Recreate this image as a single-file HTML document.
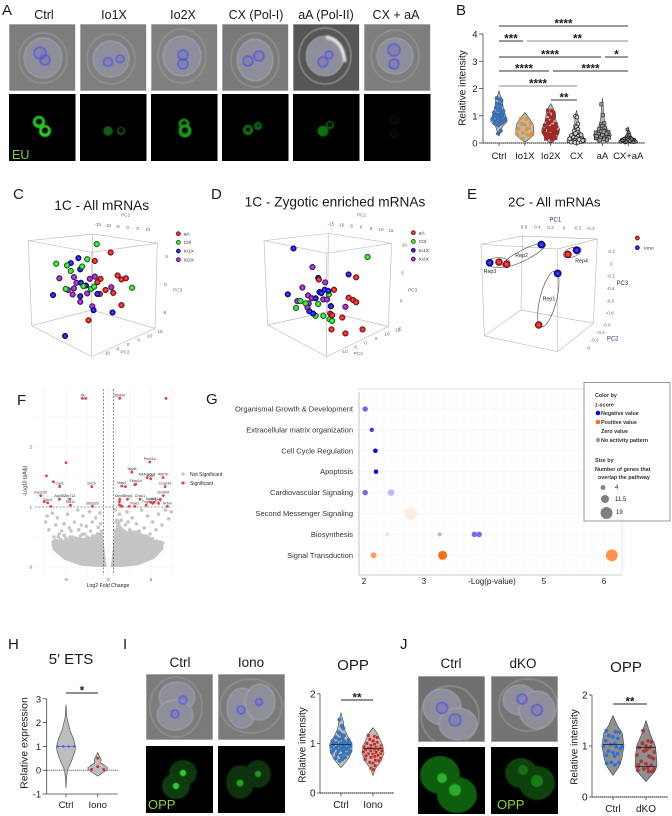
<!DOCTYPE html>
<html lang="en">
<head>
<meta charset="utf-8">
<title>Figure panels A-J</title>
<style>
html,body{margin:0;padding:0;background:#fff;width:672px;height:816px;overflow:hidden}
svg{display:block}
text{font-family:"Liberation Sans",Arial,sans-serif;fill:#1a1a1a}
.let{font-size:15px}
.ttl{font-size:15px;text-anchor:middle}
.hd{font-size:12.5px;text-anchor:middle}
.tk3{font-size:14px;fill:#666;text-anchor:middle}
.lg3{font-size:15px;fill:#333}
.blu{font-size:18px;fill:#26358a;text-anchor:middle}
.rep{font-size:16px;fill:#222;text-anchor:middle}
.cube{fill:none;stroke:#bdbdbd;stroke-width:2}
.lgG{font-size:5.4px;font-weight:bold;fill:#333}
</style>
</head>
<body>
<svg id="fig" xmlns="http://www.w3.org/2000/svg" width="672" height="816" viewBox="0 0 672 816">
<defs>
<filter id="soft" x="-30%" y="-30%" width="160%" height="160%"><feGaussianBlur stdDeviation="0.5"/></filter>
<filter id="glow" x="-50%" y="-50%" width="200%" height="200%"><feGaussianBlur stdDeviation="1.1"/></filter>
<radialGradient id="g-red"><stop offset="0" stop-color="#ff6a6a"/><stop offset=".7" stop-color="#e01010"/><stop offset="1" stop-color="#700"/></radialGradient>
<radialGradient id="g-green"><stop offset="0" stop-color="#7dff7d"/><stop offset=".7" stop-color="#14d414"/><stop offset="1" stop-color="#060"/></radialGradient>
<radialGradient id="g-blue"><stop offset="0" stop-color="#5a5aff"/><stop offset=".7" stop-color="#0a0ae0"/><stop offset="1" stop-color="#004"/></radialGradient>
<radialGradient id="g-purple"><stop offset="0" stop-color="#c060e8"/><stop offset=".7" stop-color="#8a1fc0"/><stop offset="1" stop-color="#404"/></radialGradient>
</defs>

<g id="letters">
<text class="let" x="2" y="15">A</text>
<text class="let" x="456" y="15">B</text>
<text class="let" x="13" y="199">C</text>
<text class="let" x="211" y="199">D</text>
<text class="let" x="467" y="199">E</text>
<text class="let" x="17" y="405">F</text>
<text class="let" x="206" y="404">G</text>
<text class="let" x="8" y="649">H</text>
<text class="let" x="123" y="649">I</text>
<text class="let" x="400" y="649">J</text>
</g>

<g id="panelA">
<text class="hd" x="44" y="19">Ctrl</text>
<text class="hd" x="114" y="19">Io1X</text>
<text class="hd" x="183" y="19">Io2X</text>
<text class="hd" x="256" y="19">CX (Pol-I)</text>
<text class="hd" x="326" y="19">aA (Pol-II)</text>
<text class="hd" x="396" y="19">CX + aA</text>
</g>

<g id="panelB">
<text font-size="10" text-anchor="middle" transform="translate(465.5,88) rotate(-90)">Relative intensity</text>
</g>

<g id="panelC" transform="translate(0,175) scale(.33333)">
<text class="ttl" style="font-size:41px" x="305" y="105">1C - All mRNAs</text>
<path class="cube" d="M85 197L278 177L472 205L275 232ZM85 197L95 452L275 545L465 460L472 205M278 177L275 405M95 452L275 405L465 460M275 232L275 545"/>
<text class="tk3" x="377" y="125">PC1</text>
<text class="tk3" x="533" y="350">PC3</text>
<text class="tk3" x="375" y="535">PC2</text>
</g>

<g id="panelD" transform="translate(225,175) scale(.33333)">
<text class="ttl" style="font-size:41px" x="330" y="95">1C - Zygotic enriched mRNAs</text>
<path class="cube" d="M117 197L310 175L500 205L305 235ZM117 197L128 450L305 545L490 455L500 205M310 175L308 410M128 450L308 410L490 455M305 235L305 545"/>
<text class="tk3" x="410" y="125">PC1</text>
<text class="tk3" x="563" y="350">PC3</text>
<text class="tk3" x="400" y="540">PC2</text>
</g>

<g id="panelE" transform="translate(445,175) scale(.33333)">
<text class="ttl" style="font-size:40px" x="328" y="94">2C - All mRNAs</text>
<path class="cube" d="M108 208L232 183L457 192L338 222ZM108 208L118 483L338 530L445 445L457 192M232 183L228 405M118 483L228 405L445 445M338 222L338 530"/>
<text class="blu" x="331" y="140">PC1</text>
<text class="blu" x="532" y="330">PC3</text>
<text class="blu" x="503" y="497">PC2</text>
<g fill="none" stroke="#555" stroke-width="2">
<ellipse cx="237" cy="240" rx="72" ry="16" transform="rotate(-27 237 240)"/>
<ellipse cx="160" cy="263" rx="34" ry="15"/>
<ellipse cx="382" cy="232" rx="28" ry="14" transform="rotate(-20 382 232)"/>
<ellipse cx="310" cy="372" rx="86" ry="25" transform="rotate(-76 310 372)"/>
</g>
<text class="rep" x="230" y="246">Rep2</text>
<text class="rep" x="135" y="294">Rep3</text>
<text class="rep" x="410" y="263">Rep4</text>
<text class="rep" x="312" y="376">Rep1</text>
</g>

<g id="panelF">
<text font-size="5" text-anchor="middle" transform="translate(26.5,481) rotate(-90)">-Log10 (pAdj)</text>
<text font-size="5.2" text-anchor="middle" x="108" y="587">Log2 Fold Change</text>
<circle cx="183" cy="474" r="1.6" fill="#c4c4c4"/>
<text font-size="5" x="190" y="476">Not Significant</text>
<circle cx="183" cy="483" r="1.6" fill="#f04040"/>
<text font-size="5" x="190" y="485">Significant</text>
</g>

<g id="panelG">
<text font-size="8" text-anchor="middle" x="492" y="584">-Log(p-value)</text>
</g>
<g id="legendG">
<rect x="584" y="382.5" width="86" height="138.5" fill="#fff" stroke="#999" stroke-width="1"/>
<text class="lgG" x="595" y="397">Color by</text>
<text class="lgG" x="595" y="406.5">z-score</text>
<circle cx="598" cy="413" r="2.3" fill="#0808f0"/>
<text class="lgG" x="601" y="415">Negative value</text>
<circle cx="598" cy="422" r="2.3" fill="#ff6d12"/>
<text class="lgG" x="601" y="424">Positive value</text>
<text class="lgG" x="601" y="433">Zero value</text>
<circle cx="598" cy="440" r="2.3" fill="#9aa0b5"/>
<text class="lgG" x="601" y="442">No activity pattern</text>
<text class="lgG" x="595" y="462">Size by</text>
<text class="lgG" x="595" y="471">Number of genes that</text>
<text class="lgG" x="598" y="479">overlap the pathway</text>
<circle cx="603" cy="487.5" r="2.4" fill="#808080"/>
<text font-size="6" fill="#444" x="615" y="489">4</text>
<circle cx="605" cy="499" r="4" fill="#808080"/>
<text font-size="6" fill="#444" x="615" y="501">11.5</text>
<circle cx="606.5" cy="513" r="6" fill="#808080"/>
<text font-size="6" fill="#444" x="616" y="514">19</text>
</g>

<g id="panelH">
<text class="ttl" x="71" y="664">5&#8242; ETS</text>
<text font-size="10.5" text-anchor="middle" transform="translate(27.5,743) rotate(-90)">Relative expression</text>
</g>

<g id="panelI">
<text class="ttl" style="font-size:13.5px" x="180" y="667">Ctrl</text>
<text class="ttl" style="font-size:13.5px" x="251" y="667">Iono</text>
<text class="ttl" x="353" y="670">OPP</text>
<text font-size="10" text-anchor="middle" transform="translate(305.5,745) rotate(-90)">Relative intensity</text>
</g>

<g id="panelJ">
<text class="ttl" style="font-size:13.5px" x="451" y="668">Ctrl</text>
<text class="ttl" style="font-size:13.5px" x="523" y="668">dKO</text>
<text class="ttl" x="626" y="672">OPP</text>
<text font-size="10" text-anchor="middle" transform="translate(577.5,747) rotate(-90)">Relative intensity</text>
</g>
</svg>

<script>
/* ---------- Panel B data ---------- */
const bCategories = ['Ctrl','Io1X','Io2X','CX','aA','CX+aA'];
const bTicks = [0,1,2,3,4];
const bCtrl = [1.65,1.6,1.55,1.45,1.42,1.38,1.3,1.25,1.2,1.18,1.12,1.1,1.08,1.05,1.02,1,.98,.95,.92,.9,.88,.85,.82,.8,.78,.75,.72,.7,.65,.45,.35,1.35,1.15,1.0,.93];
const bIo1X = [.9,.88,.72,.7,.68,.55,.52,.5,.38,.36,.33,.3,.28,.15];
const bIo2X = [1.2,1.18,1.1,1.05,.95,.9,.85,.8,.75,.7,.65,.62,.6,.58,.55,.52,.5,.48,.45,.42,.4,.38,.35,.32,.3,.28,.25,.22,.2,.18,.15,.12,1.0,.72,.5,.46,.35,.28];
const bCX = [.98,.95,.7,.62,.58,.5,.45,.4,.35,.3,.28,.25,.22,.2,.18,.15,.14,.12,.1,.1,.08,.07,.06,.05,.05,.04,.03,.02,.02,.3,.16,.13,.09];
const bAA = [1.42,1.02,.72,.68,.62,.55,.5,.45,.42,.4,.38,.36,.34,.32,.3,.28,.26,.24,.22,.2,.18,.15,.12,.1,.3,.35,.25,.42];
const bCXAA = [.5,.38,.3,.25,.2,.18,.16,.15,.14,.12,.12,.1,.1,.09,.08,.08,.07,.06,.06,.05,.05,.04,.03,.02,.11,.13,.09,.07,.04];
const bLevels = [[.25,.4,.6,.8,1,1.2,1.4,1.6,1.75,1.93],[.05,.15,.3,.5,.7,.9,1.12],[.03,.15,.3,.5,.7,.9,1.1,1.3,1.45],[0,.1,.2,.4,.6,.8,1,1.2],[0,.1,.3,.5,.7,1,1.3,1.65],[0,.05,.1,.2,.3,.45,.6]];
const bDensity = [[0,.2,.4,1,.8,.6,.45,.4,.15,0],[.1,.5,1,1,.9,.5,0],[.2,.6,.85,1,.7,.55,.5,.25,0],[.8,1,.8,.4,.25,.2,.15,0],[.3,.7,1,.55,.3,.15,.1,0],[.6,1,.9,.5,.2,.1,0]];

/* ---------- PCA data (principal-component units) ---------- */
const cAaPc1 = [3.0,.5,4.1,4.7,5.4,1.4,.9,2.2,3.4,1.3,4.7,-.5];
const cAaPc3 = [5.8,4.3,1.7,1,1.2,1.1,.5,-.9,-1.4,-1.6,-3.6,-6.3];
const cCtrlPc1 = [.8,-5.6,-3.9,-3.3,-.7,-1.5,-4.1,-1.3,-.1,.4,6.4];
const cCtrlPc3 = [7.3,3.8,3.5,2.5,4.6,3.3,-.7,-.2,-.7,-.3,-.5];
const cIo1Pc1 = [-2.1,-3.3,-1.8,-1.7,-.9,-6.1,-1.8,.9,.3,3.3,-4.2];
const cIo1Pc3 = [4.8,3.9,2.8,.4,-.1,-1.8,-2,-1.6,-4.5,-4.9,-9.1];
const cIo2Pc1 = [-5.1,-2.8,-2.4,-.3,.5,3.1,-2.8,-3.7,-3,-.7,-1.8,.1];
const cIo2Pc3 = [1.2,1.4,.4,1.1,1.5,-.4,-.6,-.9,-1.7,-1.5,-3,-3.8];

const dAaPc1 = [4.4,-1.5,.9,3.2,3.9,4.4,.3,.6,2.2,.5,2.7,5.4];
const dAaPc3 = [4.3,3.9,2.1,.7,.3,-.1,-2.1,-2.4,-2.8,-4.9,-5.6,-4.9];
const dCtrlPc1 = [6.2,.1,-4.4,-3.6,-1.6,-5.1,.4,-2,-.8,.2,.6];
const dCtrlPc3 = [7.9,1.3,.1,-.3,-.4,-1.1,-.8,-2.5,-2.5,-3.1,-3.4];
const dIo1Pc1 = [-5.5,3.2,-1.6,-6.4,-1.4,-.6,0,-1.1,-2,.4,-3,-2.4];
const dIo1Pc3 = [9.4,4.8,4.2,1.3,1.7,2.1,1.9,1.5,.6,-.8,-1.7,-2.1];
const dIo2Pc1 = [-2.5,-.5,-4.1,-3.2,-2.6,-.8,-.2,-3.1,-4.9,-3.3,2.7];
const dIo2Pc3 = [6.1,3.4,2.5,1.1,.6,.4,.4,-.3,.1,-1,-.9];

const eCtrlPc1 = [.965,.85,-.07,.37];
const eCtrlPc3 = [.03,-.005,.154,-.973];
const eIonoPc1 = [1.105,.33,-.2,.085];
const eIonoPc3 = [.02,.31,.22,-.15];

const pcaLegendC = ['aA','Ctrl','Io1X','Io2X'];
const cPc1Ticks = ['-15','-10','-5','0','5','10'];
const cPc3Ticks = ['5','0','-5'];
const cPc2Ticks = ['15','10','5','0','-5','-10'];
const dPc1Ticks = ['-15','-10','-5','0','5','10','15'];
const dPc3Ticks = ['10','5','0','-5'];
const dPc2Ticks = ['15','10','5','0','-5','-10'];
const ePc1Ticks = ['0.6','0.4','0.2','0','-0.2','-0.4'];
const ePc3Ticks = ['0.2','0','-0.2','-0.4','-0.6','-0.8'];
const ePc2Ticks = ['-0.6','-0.4','-0.2','0'];

/* ---------- Panel F data ---------- */
const fXTicks = [-5,0,5];
const fYTicks = [0,1,2];
const nsFc = [-7.2,-7.4,-6.6,-6.2,-6,-5.8,-5.5,-5.2,-4.8,-4.6,-4.4,-4,-3.6,-3.5,-3.2,-3,-2.8,-2.6,-2.2,-2.1,-1.9,-1.5,-1.3,-1.2,-1,-.9,-.8,-6.4,-5,-4.2,-3.8,-3.3,-2.5,-1.8,-1.6,-7,7.4,7.1,6.7,6.3,5.9,5.6,5.2,4.9,4.6,4.2,3.9,3.6,3.3,3,2.8,2.5,2.2,2,1.8,1.5,1.3,1.1,.9,.8,2.3,1.6,3.2,4.3,5,5.6,6,1.2,.75,-6.3,-5.6,-4.9,-4.5,-3.9,-3.4,-2.9,-2.4,-1.9,-1.4,-1.1,-.8,-5.9,-5.2,-3.1,-2.2,1,1.4,1.9,2.4,2.9,3.4,3.9,4.4,4.8,5.2,5.7,6.1,6.4,1.2,2.6,3.7,4.6];
const nsP = [.85,.75,.9,.7,.82,.55,.6,.72,.88,.65,.6,.75,.95,.62,.7,.85,.55,.68,.92,.6,.75,.82,.55,.66,.9,.72,.6,.5,.48,.5,.48,.52,.5,.52,.48,.62,.92,.8,.95,.7,.88,.62,.75,.55,.85,.65,.95,.6,.72,.55,.82,.62,.92,.7,.58,.78,.88,.65,.75,.95,.75,.62,.58,.5,.45,.42,.4,.7,.6,.44,.46,.43,.5,.45,.47,.46,.48,.5,.52,.55,.5,.5,.53,.54,.47,.78,.66,.6,.56,.58,.55,.53,.52,.48,.47,.43,.42,.4,.74,.6,.55,.5];
const nsCloudFc = [-6.7,-6.2,-5.5,-5,-4,-3,-2,-1.2,-.7,-.55,-.3,-.2,-.9,-3.2,-5.2,-6.5,-6.7];
const nsCloudP = [.44,.47,.44,.47,.5,.48,.5,.55,.58,.4,.1,0,0,.02,.12,.28,.36];
const nsCloudRFc = [.25,.35,.7,.95,1.4,2,3,4,5,5.6,6.4,6.5,5.4,3.5,1.5];
const nsCloudRP = [0,.1,.55,.72,.66,.6,.58,.55,.48,.44,.4,.3,.14,.03,0];
const sigFc = [-3.06,-2.67,1.33,6.78,4.86,-4.98,2.75,-7.29,4.55,4.98,6.43,-6.47,-5.73,-1.96,1.57,2,3.2,3.1,6.67,-7.96,6.47,-4.55,-5.76,-7.57,-7.14,-6.78,-4.47,-1.88,2.24,1.33,3.73,5.0,5.4,5.2,5.9,6.1,6.93,4.45,3.1,2.45,1.3,1.3,1.45,1.6];
const sigP = [2.81,2.81,2.81,2.81,1.75,1.74,1.58,1.52,1.49,1.47,1.49,1.42,1.34,1.34,1.35,1.34,1.38,1.37,1.34,1.19,1.19,1.13,1.13,1.09,1.07,1.01,1.03,1.01,1.13,1.13,1.13,1.08,1.08,1.06,1.06,1.13,1.01,1.03,1.01,1.01,1.09,1.04,1.02,1.01];
const sigLabels = ['Jtk','','Zfp820','','Pex11a','','Tsga8','','AA403004','Rafn','Wdr7b','','Cgy1','Dnzh','Ntav1','','Fkbp1b','','Cusp39','Impm2b','Dmrtb6','Zfp712','Acp85','','Tcen1','','Sfa11','Stt2p20','Stmg1','Asrc1l','Chac1','Agap3','Hnf1','','Ep8','','Nrbm','Fcgs','Fbxl3','','','','',''];

/* ---------- Panel G data ---------- */
const gPathways = ['Organismal Growth & Development','Extracellular matrix organization','Cell Cycle Regulation','Apoptosis','Cardiovascular Signaling','Second Messenger Signaling','Biosynthesis','Signal Transduction'];
const gXTicks = [2,3,5,6];
const gRow = [0,1,2,3,4,4,5,6,6,6,6,7,7,7];
const gLogP = [2.02,2.13,2.19,2.2,2.02,2.45,2.78,2.39,3.26,3.84,3.92,2.16,3.31,6.13];
const gGenes = [6,4,4.5,4.5,6,8,19,4,4,6,6,7,12,17];
const gZScore = [-.6,-.8,-1,-1,-.6,-.28,.12,.22,-.3,-.6,-.6,.65,1,.75];

/* ---------- Panel H / I / J data ---------- */
const hCategories = ['Ctrl','Iono'];
const hTicks = [-1,0,1,2,3];
const hCtrl = [1,1,1,1];
const hIono = [.5,.15,.03,.03];
const hLevels = [[-.75,-.4,0,.4,.8,1,1.3,1.7,2.2,2.75],[-.25,-.1,0,.1,.2,.3,.45,.6,.75]];
const hDensity = [[0,.05,.15,.6,.95,1,.8,.4,.1,0],[0,.5,.9,1,.7,.3,.35,.15,0]];

const iCategories = ['Ctrl','Iono'];
const iTicks = [0,1,2];
const iCtrl = [1.48,1.35,1.3,1.22,1.18,1.16,1.12,1.1,1.08,1.07,1.05,1.04,1.02,1.01,1,.99,.98,.97,.96,.95,.94,.93,.92,.91,.9,.88,.87,.86,.85,.84,.82,.8,.79,.78,.75,.72,.7,.68,.65,1.0,.96,.89];
const iIono = [1.16,1.14,1.12,1.08,1.05,1.02,1,.98,.96,.95,.93,.92,.91,.9,.89,.88,.87,.86,.85,.84,.83,.82,.8,.79,.78,.76,.75,.74,.72,.7,.68,.66,.65,.62,.6,.55,.5,.47,.9,.85];
const iLevels = [[.52,.7,.85,1,1.15,1.3,1.45,1.62],[.35,.5,.65,.8,.95,1.1,1.2,1.32]];
const iDensity = [[.05,.7,1,1,.6,.3,.2,0],[0,.25,.75,1,.9,.6,.4,0]];

const jCategories = ['Ctrl','dKO'];
const jTicks = [0,1,2];
const jCtrl = [1.3,1.28,1.27,1.2,1.18,1.15,1.1,1.05,1.03,1.0,1,.98,.95,.9,.87,.85,.82,.8,.68,.67,.66,.63];
const jDko = [1.3,1.1,1.08,1.05,1,.98,.97,.95,.9,.88,.82,.8,.75,.7,.65,.62,.6,.58,.55,.55,.52,.5,.5,1.06,.92,.78,.63,.57];
const jLevels = [[.42,.6,.75,1,1.25,1.4,1.6],[.3,.5,.6,.8,1,1.2,1.5]];
const jDensity = [[0,.55,.8,1,.85,.4,0],[0,.8,1,.95,.85,.45,0]];

/* ---------- helpers ---------- */
const NS = 'http://www.w3.org/2000/svg';
function mk(tag, attrs, parent, str) {
  const n = document.createElementNS(NS, tag);
  for (const k in attrs) n.setAttribute(k, attrs[k]);
  if (str !== undefined) n.textContent = str;
  parent.appendChild(n);
  return n;
}
const $ = id => document.getElementById(id);
function interpDensity(v, levels, dens) {
  if (v <= levels[0]) return dens[0];
  for (let i = 1; i < levels.length; i++) {
    if (v <= levels[i]) {
      const t = (v - levels[i-1]) / (levels[i] - levels[i-1]);
      return dens[i-1] + t * (dens[i] - dens[i-1]);
    }
  }
  return dens[dens.length-1];
}
function drawViolin(parent, cx, yFn, levels, dens, halfWidth, fill) {
  const right = levels.map((l,i) => (cx + dens[i]*halfWidth).toFixed(2)+' '+yFn(l).toFixed(2));
  const left = levels.map((l,i) => (cx - dens[i]*halfWidth).toFixed(2)+' '+yFn(l).toFixed(2)).reverse();
  const p = mk('path', {d:'M'+right.join('L')+'L'+left.join('L')+'Z', fill:fill, stroke:'#444', 'stroke-width':.6, 'stroke-linejoin':'round'}, parent);
  
  
}
const swarmPattern = [-1,.33,.8,-.5,0,.55,-.8,.2,-.25,.95];
function drawSwarm(parent, cx, yFn, values, levels, dens, halfWidth, style) {
  values.forEach((v,i) => {
    const off = swarmPattern[i % swarmPattern.length] * Math.max(.12, interpDensity(v, levels, dens)) * halfWidth * .88;
    let m;
    if (style.shape === 'square') {
      m = mk('rect', {x:cx+off-style.r, y:yFn(v)-style.r, width:style.r*2, height:style.r*2, fill:style.fill, stroke:style.stroke, 'stroke-width':style.sw}, parent);
    } else {
      m = mk('circle', {cx:cx+off, cy:yFn(v), r:style.r, fill:style.fill, stroke:style.stroke, 'stroke-width':style.sw}, parent);
    }
    
    
  });
}
function drawAxes(parent, x0, x1, yFn, ticks, cats, catX, fs, labelY, tickLen) {
  const base = yFn(ticks[0]);
  const zero = yFn(0);
  const ya = mk('line', {x1:x0, x2:x0, y1:base, y2:yFn(ticks[ticks.length-1]), stroke:'#444', 'stroke-width':.8}, parent);
  
  
  const xa = mk('line', {x1:x0, x2:x1, y1:base, y2:base, stroke:'#444', 'stroke-width':.8}, parent);
  
  
  const zl = mk('line', {x1:x0, x2:x1, y1:zero, y2:zero, stroke:'#222', 'stroke-width':.9, 'stroke-dasharray':'1 1'}, parent);
  
  
  ticks.forEach(t => {
    const tk = mk('line', {x1:x0-tickLen, x2:x0, y1:yFn(t), y2:yFn(t), stroke:'#444', 'stroke-width':.8}, parent);
    
    
    const lb = mk('text', {x:x0-tickLen-1.5, y:yFn(t)+3.5, 'text-anchor':'end', 'font-size':fs}, parent, String(t));
    
    
  });
  cats.forEach((c,i) => {
    const tk = mk('line', {x1:catX(i), x2:catX(i), y1:base, y2:base+3, stroke:'#444', 'stroke-width':.8}, parent);
    
    
    const lb = mk('text', {x:catX(i), y:labelY, 'text-anchor':'middle', 'font-size':fs}, parent, c);
    
    
  });
}
function sigBar(parent, xa, xb, y, stars, color) {
  const l = mk('line', {x1:xa, x2:xb, y1:y, y2:y, stroke:color, 'stroke-width':.9}, parent);
  
  
  const t = mk('text', {x:(xa+xb)/2, y:y+1.5, 'text-anchor':'middle', 'font-size':11.5, 'font-weight':'bold'}, parent, stars);
  
  
}

/* ---------- Panel B ---------- */
(function(){
  const g = $('panelB');
  const y = v => 143 - 27.25*v;
  const x = i => 499 + 25.85*i;
  const series = [bCtrl,bIo1X,bIo2X,bCX,bAA,bCXAA];
  const styles = [
    {shape:'circle',r:1.9,fill:'#3a74b8',stroke:'#2f62a3',sw:.3},
    {shape:'circle',r:1.7,fill:'#ef9620',stroke:'#d98010',sw:.3},
    {shape:'square',r:1.6,fill:'#a82a24',stroke:'#8c1d18',sw:.3},
    {shape:'circle',r:1.9,fill:'#cfcfcf',stroke:'#111',sw:.7},
    {shape:'square',r:1.7,fill:'#9a9a9a',stroke:'#222',sw:.6},
    {shape:'circle',r:1.5,fill:'#888',stroke:'#111',sw:.6}
  ];
  drawAxes(g, 483, 645, y, bTicks, bCategories, x, 9.5, 159, 4);
  series.forEach((s,i) => {
    drawViolin(g, x(i), y, bLevels[i], bDensity[i], i === 0 ? 8.3 : 9, '#b8b8b8');
    drawSwarm(g, x(i), y, s, bLevels[i], bDensity[i], i === 0 ? 8.3 : 9, styles[i]);
  });
  sigBar(g, 499, 628, 26, '****', '#333');
  sigBar(g, 499, 523, 41, '***', '#333');
  sigBar(g, 527, 628, 41, '**', '#888');
  sigBar(g, 499, 601, 57, '****', '#333');
  sigBar(g, 605, 628, 57, '*', '#333');
  sigBar(g, 499, 549, 71, '****', '#333');
  sigBar(g, 553, 628, 71, '****', '#333');
  sigBar(g, 499, 577, 86, '****', '#888');
  sigBar(g, 551, 577, 100, '**', '#333');
})();

/* ---------- PCA panels ---------- */
function drawDots(g, xs, ys, xFn, yFn, grad, r) {
  xs.forEach((v,i) => {
    const c = mk('circle', {cx:xFn(v), cy:yFn(ys[i]), r:r, fill:'url(#'+grad+')', stroke:'#111', 'stroke-width':1.4}, g);
    
    
  });
}
function drawTicks3(g, labels, xFn, yFn) {
  labels.forEach((l,i) => {
    const t = mk('text', {x:xFn(i), y:yFn(i), 'class':'tk3'}, g, l);
    
    
  });
}
function drawLegend3(g, labels, grads, x, ys) {
  labels.forEach((l,i) => {
    const c = mk('circle', {cx:x, cy:ys(i), r:6.5, fill:'url(#'+grads[i]+')', stroke:'#111', 'stroke-width':1.2}, g);
    
    
    if (l) {
      const t = mk('text', {x:x+16, y:ys(i)+5, 'class':'lg3'}, g, l);
      
      
    }
  });
}
const grads4 = ['g-red','g-green','g-blue','g-purple'];
(function(){
  const g = $('panelC');
  const x = v => 275 + 19*v, y = v => 330 - 16.8*v;
  drawDots(g, cIo2Pc1, cIo2Pc3, x, y, 'g-purple', 8.5);
  drawDots(g, cAaPc1, cAaPc3, x, y, 'g-red', 8.5);
  drawDots(g, cIo1Pc1, cIo1Pc3, x, y, 'g-blue', 8.5);
  drawDots(g, cCtrlPc1, cCtrlPc3, x, y, 'g-green', 8.5);
  drawTicks3(g, cPc1Ticks, i => 293 + 30*i, i => 153 + 2.9*i);
  drawTicks3(g, cPc3Ticks, i => 500 - 3.5*i, i => 249 + 84*i);
  drawTicks3(g, cPc2Ticks, i => 480 - 32*i, i => 474 + 13*i);
  drawLegend3(g, pcaLegendC, grads4, 535, i => 176 + 26*i);
})();
(function(){
  const g = $('panelD');
  const x = v => 310 + 19*v, y = v => 380 - 17*v;
  drawDots(g, dIo2Pc1, dIo2Pc3, x, y, 'g-purple', 8.5);
  drawDots(g, dCtrlPc1, dCtrlPc3, x, y, 'g-green', 8.5);
  drawDots(g, dIo1Pc1, dIo1Pc3, x, y, 'g-blue', 8.5);
  drawDots(g, dAaPc1, dAaPc3, x, y, 'g-red', 8.5);
  drawTicks3(g, dPc1Ticks, i => 318 + 30*i, i => 151 + 3.4*i);
  drawTicks3(g, dPc3Ticks, i => 538 - 5*i, i => 214 + 84*i);
  drawTicks3(g, dPc2Ticks, i => 518 - 32*i, i => 469 + 13*i);
  drawLegend3(g, pcaLegendC, grads4, 565, i => 173 + 26.4*i);
})();
(function(){
  const g = $('panelE');
  const x = v => 355 - 200*v, y = v => 267 - 188*v;
  drawDots(g, eCtrlPc1, eCtrlPc3, x, y, 'g-red', 10.5);
  drawDots(g, eIonoPc1, eIonoPc3, x, y, 'g-blue', 11);
  drawTicks3(g, ePc1Ticks, i => 237 + 40*i, i => 160 + i);
  drawTicks3(g, ePc3Ticks, i => 500 - 1.2*i, i => 234 + 37*i);
  drawTicks3(g, ePc2Ticks, i => 485 - 18*i, i => 454 + 23*i);
  drawLegend3(g, ['','Iono'], ['g-red','g-blue'], 577, i => 189 + 29*i);
  g.lastElementChild.setAttribute('x', 597);
})();

/* ---------- Panel F ---------- */
(function(){
  const g = $('panelF');
  const x = v => 108.4 + 8.5*v, y = v => 567 - 60*v;
  [-7.5,-5,-2.5,0,2.5,5,7.5].forEach(v => {
    const l = mk('line', {x1:x(v), x2:x(v), y1:389, y2:575, stroke:'#f1f1f1', 'stroke-width':.6}, g);
    
    
  });
  [0,.5,1,1.5,2,2.5].forEach(v => {
    const l = mk('line', {x1:35, x2:180, y1:y(v), y2:y(v), stroke:'#f1f1f1', 'stroke-width':.6}, g);
    
    
  });
  const leftCloud = mk('polygon', {points:nsCloudFc.map((v,i)=>x(v).toFixed(1)+','+y(nsCloudP[i]).toFixed(1)).join(' '), fill:'#c4c4c4'}, g);
  
  
  const rightCloud = mk('polygon', {points:nsCloudRFc.map((v,i)=>x(v).toFixed(1)+','+y(nsCloudRP[i]).toFixed(1)).join(' '), fill:'#c4c4c4'}, g);
  
  
  nsFc.forEach((v,i) => {
    const c = mk('circle', {cx:x(v), cy:y(nsP[i]), r:1.8, fill:'#c6c6c6'}, g);
    
    
  });
  [-.585,.585].forEach(v => {
    const l = mk('line', {x1:x(v), x2:x(v), y1:389, y2:575, stroke:'#444', 'stroke-width':.6, 'stroke-dasharray':'2 1.5'}, g);
    
    
  });
  const th = mk('line', {x1:35, x2:172, y1:y(1), y2:y(1), stroke:'#444', 'stroke-width':.6, 'stroke-dasharray':'2 1.5'}, g);
  
  
  sigFc.forEach((v,i) => {
    const c = mk('circle', {cx:x(v), cy:y(sigP[i]), r:1.4, fill:'#f03c3c'}, g);
    
    
    if (sigLabels[i]) {
      const t = mk('text', {x:x(v), y:y(sigP[i])-2, 'text-anchor':'middle', 'font-size':3.6, style:'fill:#333'}, g, sigLabels[i]);
      
      
    }
  });
  fXTicks.forEach(v => {
    const t = mk('text', {x:x(v), y:581, 'text-anchor':'middle', 'font-size':4.5, style:'fill:#555'}, g, String(v));
    
    
  });
  fYTicks.forEach(v => {
    const t = mk('text', {x:32, y:y(v)+1.6, 'text-anchor':'end', 'font-size':4.5, style:'fill:#555'}, g, String(v));
    
    
  });
})();

/* ---------- Panel G ---------- */
(function(){
  const g = $('panelG');
  const x = v => 364 + 60*(v-2);
  const rowY = i => 409 + 20.9*i;
  const rOf = n => 1 + .29*n;
  const colorOf = z => {
    const a = Math.abs(z);
    const base = z < 0 ? [8,8,240] : [255,109,18];
    return 'rgb(' + base.map(c => Math.round(255 - (255-c)*a)).join(',') + ')';
  };
  for (let v = 2; v <= 6.4; v += .1667) {
    const l = mk('line', {x1:x(v), x2:x(v), y1:390, y2:575, stroke:'#f3f3f3', 'stroke-width':.5}, g);
    
    
  }
  gPathways.forEach((p,i) => {
    const l = mk('line', {x1:359, x2:622, y1:rowY(i), y2:rowY(i), stroke:'#f1f1f1', 'stroke-width':.6}, g);
    
    
    const t = mk('text', {x:353, y:rowY(i)+2.5, 'text-anchor':'end', 'font-size':7.5, style:'fill:#333'}, g, p);
    
    
  });
  const top = mk('line', {x1:357, x2:622, y1:389, y2:389, stroke:'#e6e6e6', 'stroke-width':1}, g);
  
  
  const right = mk('line', {x1:622, x2:622, y1:389, y2:575, stroke:'#e6e6e6', 'stroke-width':1}, g);
  
  
  const ya = mk('line', {x1:359, x2:359, y1:392, y2:575, stroke:'#b5b5b5', 'stroke-width':.8}, g);
  
  
  const xa = mk('line', {x1:359, x2:622, y1:575, y2:575, stroke:'#cfcfcf', 'stroke-width':1}, g);
  
  
  gLogP.forEach((v,i) => {
    const c = mk('circle', {cx:x(v), cy:rowY(gRow[i]), r:rOf(gGenes[i]), fill:colorOf(gZScore[i])}, g);
    
    
  });
  gXTicks.forEach(v => {
    const t = mk('text', {x:x(v), y:584, 'text-anchor':'middle', 'font-size':8}, g, String(v));
    
    
  });
})();

/* ---------- Panel H ---------- */
(function(){
  const g = $('panelH');
  const y = v => 770.2 - 23.8*v;
  const x = i => 66 + 31.7*i;
  drawAxes(g, 46.7, 117.7, y, hTicks, hCategories, x, 9.5, 808, 4);
  drawViolin(g, x(0), y, hLevels[0], hDensity[0], 9.5, '#bdbdbd');
  drawViolin(g, x(1), y, hLevels[1], hDensity[1], 10, '#bdbdbd');
  const med = mk('line', {x1:x(0)-9.5, x2:x(0)+9.5, y1:y(1), y2:y(1), stroke:'#3a62d8', 'stroke-width':.8}, g);
  
  
  const hOffsets = [-9,-3,3,9];
  hCtrl.forEach((v,i) => {
    const c = mk('circle', {cx:x(0)+hOffsets[i]*.9, cy:y(v), r:1.2, fill:'#3a62d8'}, g);
    
    
  });
  const iOffsets = [0,0,-6,6];
  hIono.forEach((v,i) => {
    const c = mk('circle', {cx:x(1)+iOffsets[i], cy:y(v), r:1.5, fill:'#c0392b'}, g);
    
    
  });
  sigBar(g, 66, 98, 693, '*', '#222');
})();

/* ---------- Panel I chart ---------- */
(function(){
  const g = $('panelI');
  const y = v => 793 - 49.6*v;
  const x = i => 341 + 32*i;
  drawAxes(g, 320, 394, y, iTicks, iCategories, x, 10, 808, 3);
  drawViolin(g, x(0), y, iLevels[0], iDensity[0], 11, '#bcbcbc');
  drawViolin(g, x(1), y, iLevels[1], iDensity[1], 11, '#bcbcbc');
  drawSwarm(g, x(0), y, iCtrl, iLevels[0], iDensity[0], 11, {shape:'circle',r:1.9,fill:'#3a78c0',stroke:'#2d66a8',sw:.3});
  drawSwarm(g, x(1), y, iIono, iLevels[1], iDensity[1], 11, {shape:'square',r:1.7,fill:'#b5302a',stroke:'#e3a09a',sw:.5});
  [[0,.98],[1,.9]].forEach(m => {
    const l = mk('line', {x1:x(m[0])-10, x2:x(m[0])+10, y1:y(m[1]), y2:y(m[1]), stroke:'#222', 'stroke-width':.8}, g);
    
    
  });
  sigBar(g, 341, 373, 700, '**', '#222');
})();

/* ---------- Panel J chart ---------- */
(function(){
  const g = $('panelJ');
  const y = v => 797 - 51*v;
  const x = i => 613 + 33*i;
  drawAxes(g, 592, 668, y, jTicks, jCategories, x, 10, 812, 3);
  drawViolin(g, x(0), y, jLevels[0], jDensity[0], 11, '#8f8f8f');
  drawViolin(g, x(1), y, jLevels[1], jDensity[1], 11, '#8f8f8f');
  drawSwarm(g, x(0), y, jCtrl, jLevels[0], jDensity[0], 11, {shape:'circle',r:1.9,fill:'#2f6fd6',stroke:'none',sw:0});
  drawSwarm(g, x(1), y, jDko, jLevels[1], jDensity[1], 11, {shape:'circle',r:1.9,fill:'#a83a3a',stroke:'none',sw:0});
  [[0,1.03],[1,.97],[1,.6]].forEach(m => {
    const l = mk('line', {x1:x(m[0])-10, x2:x(m[0])+10, y1:y(m[1]), y2:y(m[1]), stroke:'#222', 'stroke-width':.8}, g);
    
    
  });
  sigBar(g, 613, 647, 704, '**', '#222');
})();

/* ---------- Microscopy tiles ---------- */
function dicTile(parent, x, y, w, h, bg, zona, cells, nuclei, bright) {
  const s = mk('svg', {x:x, y:y, width:w, height:h, viewBox:'0 0 '+w+' '+h}, parent);
  
  
  mk('rect', {width:w, height:h, fill:bg}, s);
  mk('ellipse', {cx:zona[0], cy:zona[1], rx:zona[2], ry:zona[3], fill:bg, stroke:'#959595', 'stroke-width':1.2, filter:'url(#soft)'}, s);
  cells.forEach(c => {
    mk('ellipse', {cx:c[0], cy:c[1], rx:c[2], ry:c[3], fill:'#8f8f9c', stroke:'#adadad', 'stroke-width':.7, filter:'url(#soft)'}, s);
  });
  if (bright) {
    mk('path', {d:bright, fill:'none', stroke:'#ededed', 'stroke-width':3, filter:'url(#glow)'}, s);
  }
  nuclei.forEach(n => {
    mk('circle', {cx:n[0], cy:n[1], r:n[2], fill:'rgba(70,70,235,.18)', stroke:'#4a4aee', 'stroke-width':1, filter:'url(#soft)'}, s);
  });
  mk('rect', {x:.25, y:.25, width:w-.5, height:h-.5, fill:'none', stroke:'#cfcfcf', 'stroke-width':.5}, s);
}
function greenTile(parent, x, y, w, h, cellsOut, spots) {
  const s = mk('svg', {x:x, y:y, width:w, height:h, viewBox:'0 0 '+w+' '+h}, parent);
  
  
  mk('rect', {width:w, height:h, fill:'#000'}, s);
  cellsOut.forEach(c => {
    mk('ellipse', {cx:c[0], cy:c[1], rx:c[2], ry:c[3], fill:c[4], filter:'url(#soft)'}, s);
  });
  spots.forEach(n => {
    mk('circle', {cx:n[0], cy:n[1], r:n[2], fill:n[3], filter:'url(#soft)'}, s);
    if (n[4]) mk('circle', {cx:n[0], cy:n[1]-.5, r:n[4], fill:'#000', filter:'url(#soft)'}, s);
  });
}
(function(){
  const g = $('panelA');
  const xs = [9,80,151,222,293,364];
  const dic = [
    ['#7d7d7d',[34,34,24,25],[[34,34,19,20]],[[31,29,6],[36,36,5]]],
    ['#7f7f7f',[31,35,24,25],[[31,35,18,18]],[[28,38,4.5],[40,35,4]]],
    ['#808080',[31,32,24,27],[[31,32,19,20]],[[32,31,5],[32,40,5]]],
    ['#7a7a7a',[33,36,24,27],[[33,36,18,21]],[[26,37,5],[37,32,5]]],
    ['#565656',[32,32,26,28],[[32,32,19,20]],[[36,31,4],[30,38,5]]],
    ['#7e7e7e',[31,32,24,26],[[31,32,18,18]],[[30,26,6],[30,40,5]]]
  ];
  const green = [
    [[30,28,6.2,'#22c422',3],[36,37,6,'#26d026',3]],
    [[28,37,4.8,'#145c14',0],[41,37,4.2,'#124f12',2.4]],
    [[33,30,5.5,'#158f15',2.5],[34,37,6.5,'#179c17',3]],
    [[26,36,5.2,'#106f10',2],[36,32,4.2,'#0c5c0c',1]],
    [[30,37,5.4,'#0e720e',0],[37,31,4.2,'#0d5f0d',2.4]],
    [[30,26,5,'#041804',3],[30,40,4.5,'#031203',2.5]]
  ];
  xs.forEach((x,i) => {
    dicTile(g, x, 24, 66.5, 67, dic[i][0], dic[i][1], dic[i][2], dic[i][3], i === 4 ? 'M33 13Q50 16 52 38' : null);
    greenTile(g, x, 94, 66.5, 67, [], green[i]);
  });
  const eu = mk('text', {x:12, y:159, 'font-size':12.5, style:'fill:#7fd32a'}, g, 'EU');
  
  
})();
(function(){
  const g = $('panelI');
  dicTile(g, 146, 674, 67, 66, '#7b7b7b', [30,33,26,30], [[31,23,18,15],[29,41,18,15]], [[37,26,4],[29,40,4]]);
  dicTile(g, 218, 674, 67, 66, '#7b7b7b', [33,32,31,27], [[24,34,15,20],[42,28,15,18]], [[23,36,4],[41,28,3.5]]);
  greenTile(g, 146, 746, 67, 67, [[37,27,14,13,'#0a380a'],[30,40,14,13,'#0b3c0b']], [[37,27,3.2,'#26d626',0],[30,40,3.2,'#26d626',0]]);
  greenTile(g, 218, 746, 67, 67, [[22,36,14,17,'#083008'],[40,28,13,14,'#083008']], [[22,37,3.5,'#1ea81e',0],[40,28,3.2,'#1e981e',0]]);
  const t = mk('text', {x:148, y:809, 'font-size':13, style:'fill:#8fd42a'}, g, 'OPP');
  
  
})();
(function(){
  const g = $('panelJ');
  dicTile(g, 418, 676, 67, 66, '#6f6f6f', [32,40,29,30], [[24,31,19,18],[40,48,19,16]], [[24,32,5.5],[37,44,6]]);
  dicTile(g, 491, 676, 67, 66, '#747474', [37,29,29,26], [[29,24,17,15],[46,34,18,19]], [[31,23,5],[46,34,5.5]]);
  greenTile(g, 418, 747, 67, 67, [[22,28,20,19,'#0e5e0e'],[39,48,20,18,'#0e5e0e']], [[24,31,5,'#2cb42c',0],[37,43,6,'#2bae2b',0]]);
  greenTile(g, 491, 747, 67, 67, [[30,26,16,15,'#0a420a'],[46,36,18,17,'#0a420a']], [[32,23,5,'#147014',0],[46,34,6,'#187e18',0]]);
  const t = mk('text', {x:497, y:809, 'font-size':13, style:'fill:#8fd42a'}, g, 'OPP');
  
  
})();
</script>
</body>
</html>
